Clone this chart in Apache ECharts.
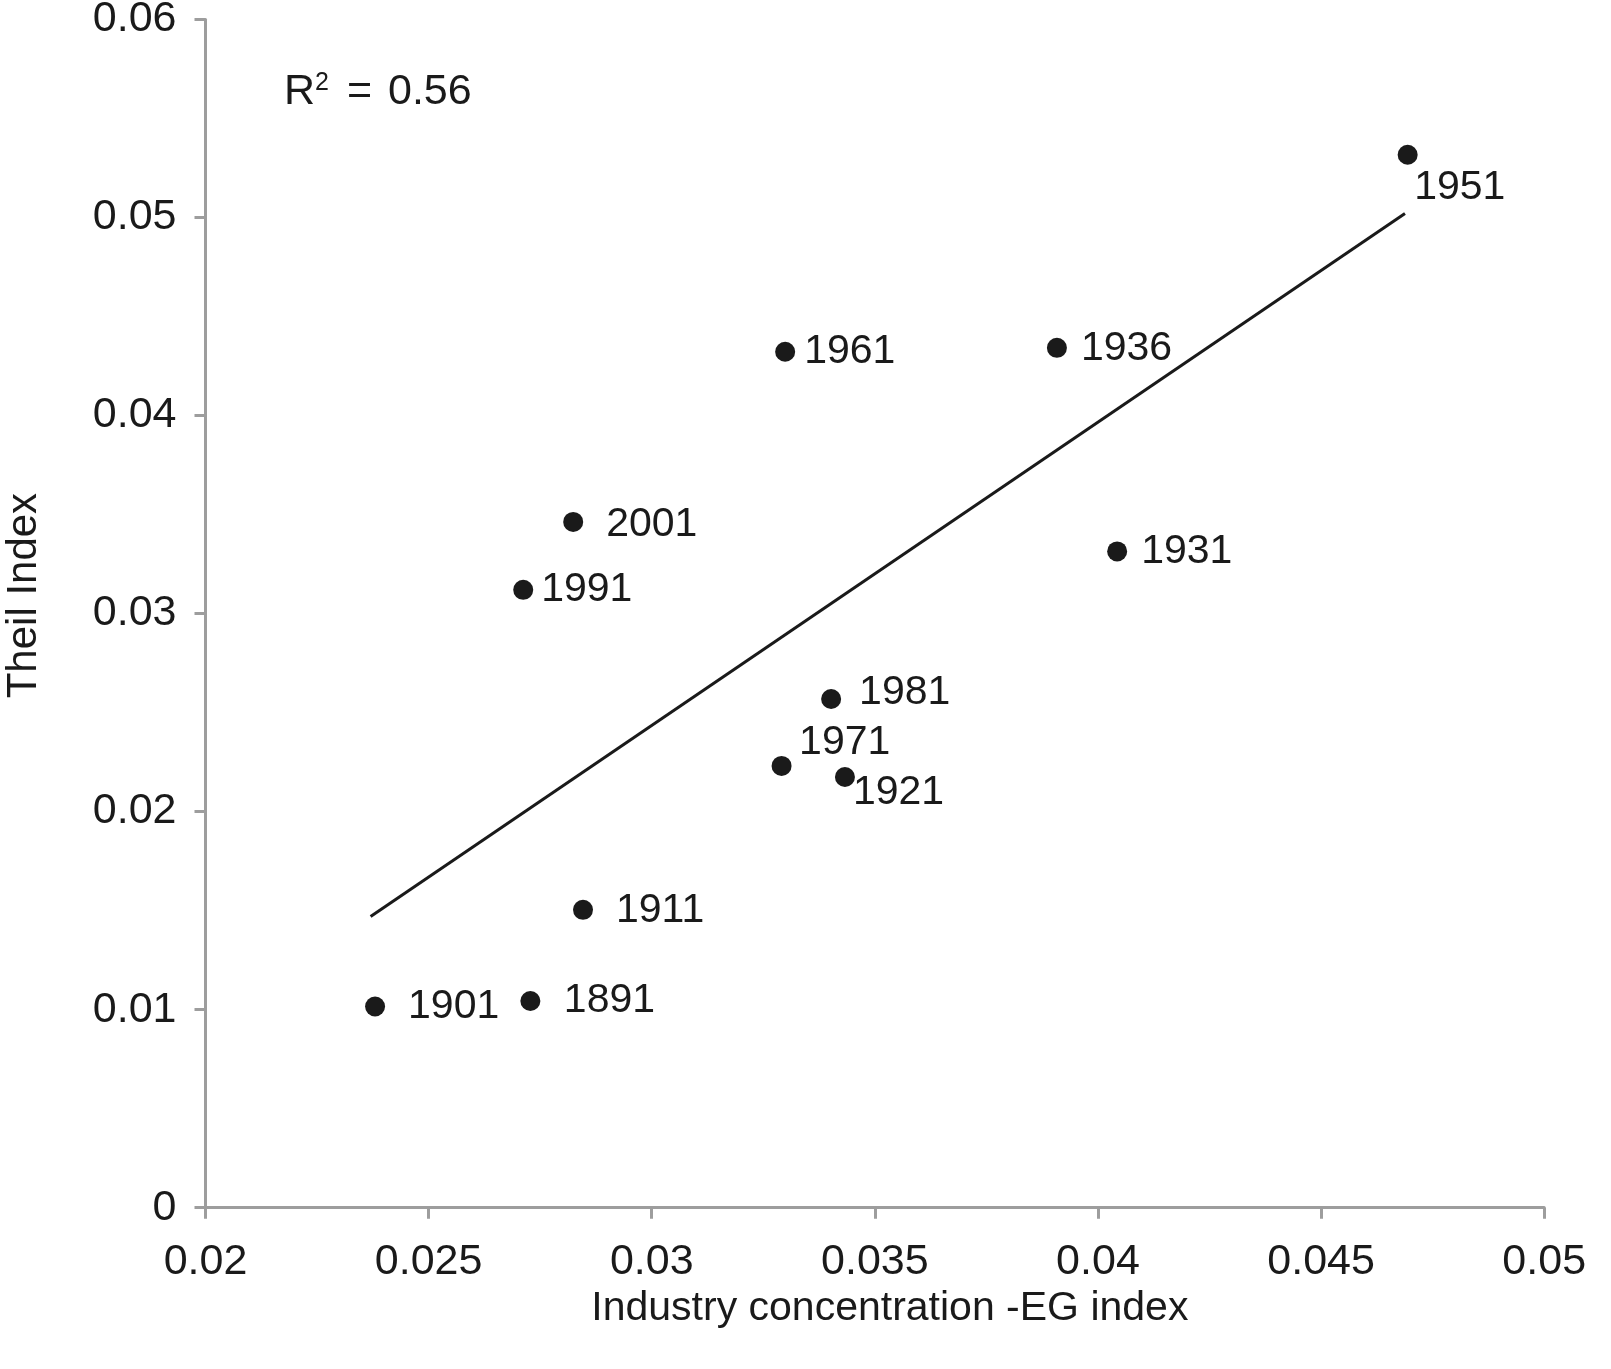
<!DOCTYPE html>
<html>
<head>
<meta charset="utf-8">
<script src="https://cdn.jsdelivr.net/npm/echarts@6/dist/echarts.min.js"></script>
<style>
  html, body { margin: 0; padding: 0; background: #fff; }
  #chart { width: 1611px; height: 1369px; }
</style>
</head>
<body>
<div id="chart"></div>
<script>
// ---- Data ----
const years      = ['1891', '1901', '1911', '1921', '1931', '1936', '1951', '1961', '1971', '1981', '1991', '2001'];
const egIndex    = [0.02728, 0.02380, 0.02846, 0.03433, 0.04043, 0.03908, 0.04694, 0.03299, 0.03291, 0.03402, 0.02712, 0.02824];
const theilIndex = [0.01044, 0.01016, 0.01504, 0.02175, 0.03314, 0.04342, 0.05317, 0.04322, 0.02231, 0.02569, 0.03120, 0.03463];
const trendX     = [0.0237, 0.04688];
const trendY     = [0.0147, 0.0502];
const rSquared   = '0.56';
const xTitle     = 'Industry concentration -EG index';
const yTitle     = 'Theil Index';

// ---- Styling (label placement relative to each marker centre) ----
const FONT = "'Liberation Sans', Arial, Helvetica, sans-serif";
const INK = '#1a1a1a';
const AXIS = '#9d9d9d';
const SYMBOL = 20;
const labelOffsets = {
  '1951': [6.5, 32.5], '1961': [19, 0], '1936': [24, 1], '2001': [33, 3],
  '1991': [18, 0], '1981': [28, -6], '1971': [17.5, -23], '1921': [8, 16],
  '1931': [24, 0], '1911': [33, 0.5], '1901': [33, 0], '1891': [33.5, 0]
};

const scatterData = years.map((y, i) => {
  const off = labelOffsets[y] || [20, 0];
  return {
    value: [egIndex[i], theilIndex[i]],
    name: y,
    label: { position: [SYMBOL / 2 + off[0], SYMBOL / 2 + off[1]] }
  };
});

const fmt = v => String(+(+v).toFixed(4));

const chart = echarts.init(document.getElementById('chart'), null, { renderer: 'canvas' });
chart.setOption({
  backgroundColor: '#ffffff',
  animation: false,
  textStyle: { fontFamily: FONT },
  grid: { left: 205.5, right: 66.8, top: 19.5, bottom: 161.3, containLabel: false, outerBoundsMode: 'none' },
  xAxis: {
    type: 'value', min: 0.02, max: 0.05, interval: 0.005,
    name: xTitle, nameLocation: 'middle', nameGap: 77,
    nameTextStyle: { fontFamily: FONT, fontSize: 41, color: INK, padding: [0, 0, 0, 30] },
    axisLine: { show: true, onZero: false, lineStyle: { color: AXIS, width: 3 } },
    axisTick: { show: true, inside: false, length: 11, lineStyle: { color: AXIS, width: 3 } },
    axisLabel: { margin: 33, fontSize: 43, color: INK, fontFamily: FONT, formatter: fmt, showMinLabel: true, showMaxLabel: true },
    splitLine: { show: false }
  },
  yAxis: {
    type: 'value', min: 0, max: 0.06, interval: 0.01,
    name: yTitle, nameLocation: 'middle', nameGap: 160, nameRotate: 90,
    nameTextStyle: { fontFamily: FONT, fontSize: 42, color: INK, padding: [0, 0, 0, 36] },
    axisLine: { show: true, onZero: false, lineStyle: { color: AXIS, width: 3 } },
    axisTick: { show: true, inside: false, length: 11, lineStyle: { color: AXIS, width: 3 } },
    axisLabel: { margin: 29, fontSize: 43, color: INK, fontFamily: FONT, formatter: fmt, showMinLabel: true, showMaxLabel: true },
    splitLine: { show: false }
  },
  series: [
    {
      type: 'line',
      data: trendX.map((x, i) => [x, trendY[i]]),
      symbol: 'none',
      lineStyle: { color: INK, width: 3 },
      silent: true,
      z: 2
    },
    {
      type: 'scatter',
      data: scatterData,
      symbol: 'circle',
      symbolSize: SYMBOL,
      itemStyle: { color: INK, opacity: 1 },
      label: {
        show: true,
        align: 'left',
        verticalAlign: 'middle',
        formatter: p => p.name,
        fontSize: 41,
        fontFamily: FONT,
        color: INK,
        opacity: 1
      },
      emphasis: { disabled: true },
      z: 3
    }
  ],
  graphic: [
    {
      type: 'text',
      left: 284,
      top: 71,
      style: {
        text: '{r|R}{sup|2}{eq|=}{num|' + rSquared + '}',
        fontFamily: FONT,
        fontSize: 43,
        fill: INK,
        rich: {
          r:   { fontSize: 43, width: 31, fontFamily: FONT, fill: INK },
          sup: { fontSize: 25, lineHeight: 25, width: 32, verticalAlign: 'top', fontFamily: FONT, fill: INK },
          eq:  { fontSize: 43, width: 41, fontFamily: FONT, fill: INK },
          num: { fontSize: 43, fontFamily: FONT, fill: INK }
        }
      }
    }
  ]
});
</script>
</body>
</html>
